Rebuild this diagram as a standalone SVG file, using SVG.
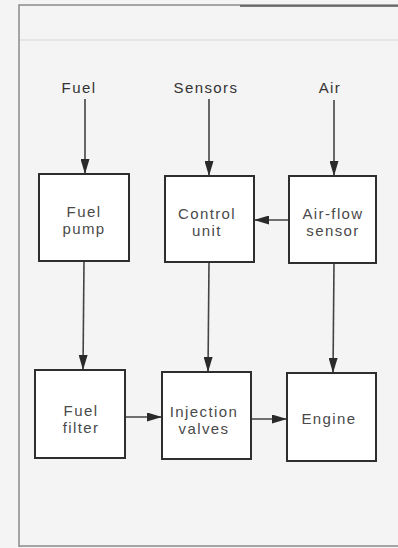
<svg xmlns="http://www.w3.org/2000/svg" width="398" height="548" viewBox="0 0 398 548">
<style>
.box{fill:#ffffff;stroke:#2e2e2e;stroke-width:2}
.lbl{font-family:"Liberation Sans",Arial,Helvetica,sans-serif;font-size:15px;letter-spacing:1.4px;fill:#4a4a4a;text-anchor:middle}
.top{fill:#333333}
.con{stroke:#444444;stroke-width:1.6;fill:none;marker-end:url(#ah)}
.frame{stroke:#8a8a8a;stroke-width:1.5;fill:none}
</style>
<defs>
<marker id="ah" markerWidth="15" markerHeight="9" refX="15" refY="4.5" orient="auto" markerUnits="userSpaceOnUse">
<path d="M0,0 L15,4.5 L0,9 Z" fill="#2a2a2a"/>
</marker>
</defs>
<rect x="0" y="0" width="398" height="548" fill="#f4f4f4"/>
<g id="frame">
<path class="frame" d="M19,547 L19,5 L398,5"/>
<path d="M240,6 L398,6" stroke="#555" stroke-width="1.5"/>
<path class="frame" d="M19,546 L398,546"/>
<path d="M20,40 L398,40" stroke="#d6d6d6" stroke-width="1"/>
</g>
<g id="inputs">
<text class="lbl top" x="79" y="93">Fuel</text>
<text class="lbl top" x="206" y="93">Sensors</text>
<text class="lbl top" x="330" y="93">Air</text>
</g>
<g id="connectors">
<line class="con" x1="85" y1="99" x2="85" y2="174"/>
<line class="con" x1="209" y1="99" x2="209" y2="176"/>
<line class="con" x1="334" y1="100" x2="334" y2="176"/>
<line class="con" x1="289" y1="220" x2="254" y2="220"/>
<line class="con" x1="84" y1="261" x2="83" y2="370"/>
<line class="con" x1="209" y1="262" x2="208" y2="372"/>
<line class="con" x1="334" y1="263" x2="333" y2="373"/>
<line class="con" x1="125" y1="417" x2="162" y2="417"/>
<line class="con" x1="251" y1="419" x2="287" y2="419"/>
</g>
<g id="fuel-pump">
<rect class="box" x="39" y="174" width="90" height="87"/>
<text class="lbl" x="84" y="217">Fuel</text>
<text class="lbl" x="84" y="234">pump</text>
</g>
<g id="control-unit">
<rect class="box" x="165" y="176" width="89" height="86"/>
<text class="lbl" x="207" y="219">Control</text>
<text class="lbl" x="207" y="236">unit</text>
</g>
<g id="air-flow-sensor">
<rect class="box" x="289" y="176" width="87" height="87"/>
<text class="lbl" x="333" y="219">Air-flow</text>
<text class="lbl" x="333" y="236">sensor</text>
</g>
<g id="fuel-filter">
<rect class="box" x="35" y="370" width="90" height="88"/>
<text class="lbl" x="81" y="416">Fuel</text>
<text class="lbl" x="81" y="433">filter</text>
</g>
<g id="injection-valves">
<rect class="box" x="162" y="372" width="89" height="87"/>
<text class="lbl" x="204" y="417">Injection</text>
<text class="lbl" x="204" y="434">valves</text>
</g>
<g id="engine">
<rect class="box" x="287" y="373" width="89" height="88"/>
<text class="lbl" x="329" y="424">Engine</text>
</g>
</svg>
